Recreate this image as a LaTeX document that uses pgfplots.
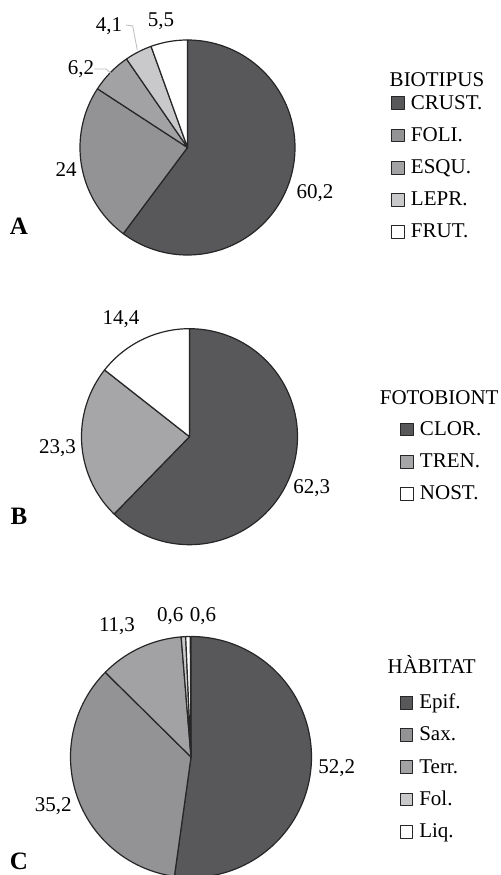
\documentclass[border=0pt]{standalone}
\usepackage{pgfplots}
\pgfplotsset{compat=1.18}
\usepackage{fontspec}
\setmainfont{Liberation Serif}
\definecolor{cA}{HTML}{58585B}
\definecolor{cB}{HTML}{939396}
\definecolor{cC}{HTML}{A2A2A5}
\definecolor{cD}{HTML}{C9C9CB}
\definecolor{cE}{HTML}{FFFFFF}
\definecolor{cT}{HTML}{A6A6A9}
\definecolor{lead}{HTML}{BBBBBB}
\pgfplotsset{
 base/.style={width=250.5pt,height=437.5pt,scale only axis,xmin=0,xmax=501,ymin=0,ymax=875,
   hide axis,clip=true,
   legend style={draw=none,fill=none,inner sep=0pt,anchor=west,row sep=6.1pt,column sep=3pt,
      font=\fontsize{10.5}{12}\selectfont,
      nodes={inner sep=0pt,text height=8pt,text depth=2pt},cells={anchor=west}},
   legend image code/.code={\draw[##1,draw=black!85,line width=0.5pt] (0pt,-3.3pt) rectangle (6.3pt,3.1pt);},
 },
 wedge/.style={draw=black!85,line width=0.6pt,samples=120,mark=none,line join=round},
}
\tikzset{
 lab/.style={anchor=base,font=\fontsize{10.5}{12}\selectfont,inner sep=0pt},
 big/.style={anchor=base,font=\bfseries\fontsize{12.5}{14}\selectfont,inner sep=0pt},
}
% #1 cx, #2 cy, #3 radius, #4 cumulative % before, #5 value %, #6 colour
\newcommand{\pie}[6]{\addplot[wedge,fill=#6,domain={90-3.6*(#4+#5)}:{90-3.6*(#4)}]
  ({#1+#3*cos(x)},{#2+#3*sin(x)}) -- (axis cs:#1,#2) -- cycle;}
\begin{document}
\begin{tikzpicture}
% ---------------- A : BIOTIPUS
\begin{axis}[base,legend style={at={(0.7804,0.8086)}}]
\path (axis cs:0,0) rectangle (axis cs:501,875);
\pie{187.5}{727.5}{107.5}{0}{60.2}{cA}\addlegendentry{CRUST.}
\pie{187.5}{727.5}{107.5}{60.2}{24}{cB}\addlegendentry{FOLI.}
\pie{187.5}{727.5}{107.5}{84.2}{6.2}{cC}\addlegendentry{ESQU.}
\pie{187.5}{727.5}{107.5}{90.4}{4.1}{cD}\addlegendentry{LEPR.}
\pie{187.5}{727.5}{107.5}{94.5}{5.5}{cE}\addlegendentry{FRUT.}
\draw[lead,line width=0.4pt] (axis cs:126,850) -- (axis cs:132.7,849) -- (axis cs:137.3,825);
\draw[lead,line width=0.4pt] (axis cs:94.3,806) -- (axis cs:106,806) -- (axis cs:111.7,801);
\node[lab] at (axis cs:315,676.7) {60,2};
\node[lab] at (axis cs:66,698.3) {24};
\node[lab] at (axis cs:81,800) {6,2};
\node[lab] at (axis cs:109,843.3) {4,1};
\node[lab] at (axis cs:161,848.3) {5,5};
\node[big] at (axis cs:19,640) {A};
\node[lab] at (axis cs:437,788) {BIOTIPUS};
\end{axis}
% ---------------- B : FOTOBIONT
\begin{axis}[base,legend style={at={(0.7984,0.4726)}}]
\pie{189.5}{438.3}{108}{0}{62.3}{cA}\addlegendentry{CLOR.}
\pie{189.5}{438.3}{108}{62.3}{23.3}{cT}\addlegendentry{TREN.}
\pie{189.5}{438.3}{108}{85.6}{14.4}{cE}\addlegendentry{NOST.}
\node[lab] at (axis cs:121,550) {14,4};
\node[lab] at (axis cs:57.5,421.7) {23,3};
\node[lab] at (axis cs:311.7,381.7) {62,3};
\node[big] at (axis cs:19,350) {B};
\node[lab] at (axis cs:439.2,470) {FOTOBIONT};
\end{axis}
% ---------------- C : HABITAT
\begin{axis}[base,legend style={at={(0.797,0.1234)}}]
\pie{191}{118}{120.5}{0}{52.2}{cA}\addlegendentry{Epif.}
\pie{191}{118}{120.5}{52.2}{35.2}{cB}\addlegendentry{Sax.}
\pie{191}{118}{120.5}{87.4}{11.3}{cC}\addlegendentry{Terr.}
\pie{191}{118}{120.5}{98.7}{0.6}{cD}\addlegendentry{Fol.}
\pie{191}{118}{120.5}{99.3}{0.6}{cE}\addlegendentry{Liq.}
\node[lab] at (axis cs:170.3,253.3) {0,6};
\node[lab] at (axis cs:203,253.3) {0,6};
\node[lab] at (axis cs:117,243.3) {11,3};
\node[lab] at (axis cs:336.7,101.7) {52,2};
\node[lab] at (axis cs:53.3,63.3) {35,2};
\node[big] at (axis cs:19,5) {C};
\node[lab] at (axis cs:431.7,201.7) {HÀBITAT};
\end{axis}
\end{tikzpicture}
\end{document}
